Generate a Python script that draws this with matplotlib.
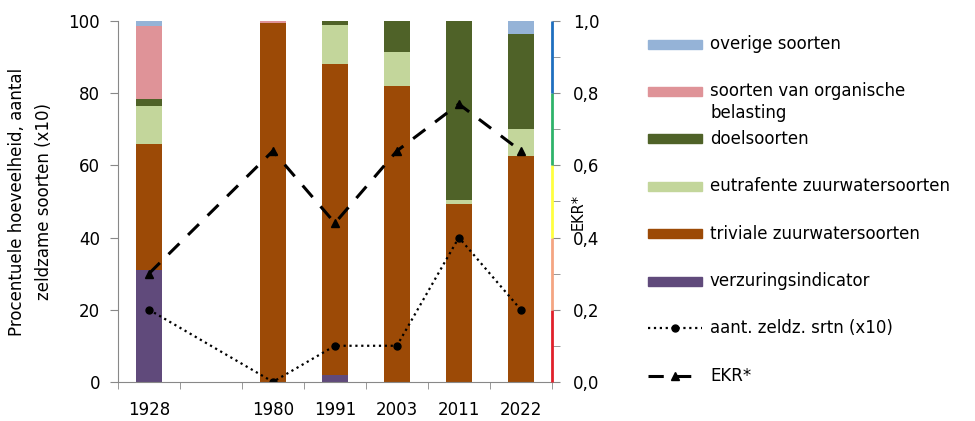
import numpy as np
import matplotlib.pyplot as plt
from matplotlib.patches import Rectangle
from matplotlib.lines import Line2D

years = ["1928", "1980", "1991", "2003", "2011", "2022"]
verzuring = [31, 0, 2, 0, 0, 0]
triviaal = [35, 99.5, 86, 82, 49.3, 62.5]
eutrafent = [10.5, 0, 11, 9.5, 1, 7.5]
doel = [2, 0, 1, 8.5, 49.7, 26.5]
organisch = [20, 0.5, 0, 0, 0, 0]
overig = [1.5, 0, 0, 0, 0, 3.5]
zeldzaam = [2, 0, 1, 1, 4, 2]
ekr = [0.30, 0.64, 0.44, 0.64, 0.77, 0.64]

series = [
    ("verzuringsindicator", verzuring, "#604a7b"),
    ("triviale zuurwatersoorten", triviaal, "#9c4a06"),
    ("eutrafente zuurwatersoorten", eutrafent, "#c3d69b"),
    ("doelsoorten", doel, "#4f6228"),
    ("soorten van organische\nbelasting", organisch, "#df9398"),
    ("overige soorten", overig, "#95b3d7"),
]
ekr_bands = [(0.0, 0.2, "#e0202a"), (0.2, 0.4, "#f4a582"), (0.4, 0.6, "#ffff40"),
             (0.6, 0.8, "#2fb36a"), (0.8, 1.0, "#1f6fbf")]

plt.rcParams['font.family'] = 'DejaVu Sans'
fs = 12
W, H = 975, 421
fig = plt.figure(figsize=(W / 100, H / 100), dpi=100)
ax = fig.add_axes([0.121, 0.093, 0.445, 0.857])

# empty slot between 1928 and 1980
idx = np.arange(len(years))
x = idx + (idx > 0)

bottom = np.zeros(len(years))
for name, vals, col in series:
    vals = np.array(vals, dtype=float)
    ax.bar(x, vals, 0.41, bottom=bottom, color=col)
    bottom += vals

zeld_style = dict(color="black", linestyle=":", lw=1.6, marker="o", ms=5)
ekr_style = dict(color="black", linestyle=(0, (5, 4)), lw=2.2, marker="^", ms=6)

ax.plot(x, np.array(zeldzaam) * 10, **zeld_style)

ax.set_xlim(-0.5, 6.5)
ax.set_ylim(0, 100)
ax.set_yticks(np.arange(0, 101, 20))
ax.set_xticks(x)
ax.set_xticklabels(years)
ax.set_xticks(np.arange(-0.5, 6.6, 1), minor=True)
ax.tick_params(axis="x", which="major", length=0, labelsize=fs, pad=14)
ax.tick_params(axis="x", which="minor", length=5, color="#888888")
ax.tick_params(axis="y", length=6, color="#888888", labelsize=fs, pad=7)
for s in ["top", "right"]:
    ax.spines[s].set_visible(False)
for s in ["left", "bottom"]:
    ax.spines[s].set_color("#888888")
ax.set_ylabel("Procentuele hoeveelheid, aantal\nzeldzame soorten (x10)", fontsize=12,
              linespacing=1.6)
ax.yaxis.set_label_coords(-0.15, 0.5)

ax2 = ax.twinx()
ax2.plot(x, ekr, **ekr_style)
ax2.set_ylim(0, 1)
ax2.set_yticks(np.arange(0, 1.01, 0.2))
ax2.set_yticklabels([f"{v:.1f}".replace(".", ",") for v in np.arange(0, 1.01, 0.2)])
ax2.set_yticks(np.arange(0, 1.01, 0.1), minor=True)
ax2.tick_params(axis="y", which="both", length=6, color="#888888", labelsize=fs, pad=9)
for s in ["top", "right", "left", "bottom"]:
    ax2.spines[s].set_visible(False)
for lo, hi, col in ekr_bands:
    ax2.plot([1, 1], [lo, hi], color=col, lw=2, transform=ax2.get_yaxis_transform(),
             clip_on=False, solid_capstyle="butt")
ax2.set_ylabel("EKR*", fontsize=10.5)
ax2.yaxis.set_label_coords(1.044, 0.47)

# legend drawn by hand so entries keep an even pitch
entries = [(name, ("patch", col)) for name, _, col in series][::-1]
entries += [("aant. zeldz. srtn (x10)", ("line", zeld_style)),
            ("EKR*", ("line", ekr_style))]
y0, step = 44, 47.4
hx0, hx1, tx = 648, 702, 710
for i, (label, (kind, spec)) in enumerate(entries):
    yc = y0 + i * step
    if kind == "patch":
        fig.add_artist(Rectangle((hx0 / W, 1 - (yc + 4.5) / H), (hx1 - hx0) / W, 9 / H,
                                 color=spec, transform=fig.transFigure))
    else:
        yy = 1 - yc / H
        fig.add_artist(Line2D([hx0 / W, hx1 / W], [yy, yy], transform=fig.transFigure,
                              color=spec["color"], linestyle=spec["linestyle"], lw=spec["lw"]))
        fig.add_artist(Line2D([(hx0 + hx1) / 2 / W], [yy], transform=fig.transFigure,
                              color="black", marker=spec["marker"], ms=spec["ms"],
                              linestyle="none"))
    for j, line in enumerate(label.split("\n")):
        fig.text(tx / W, 1 - (yc + j * 22) / H, line, fontsize=fs, va="center", ha="left")

fig.savefig("out.png", dpi=100)
